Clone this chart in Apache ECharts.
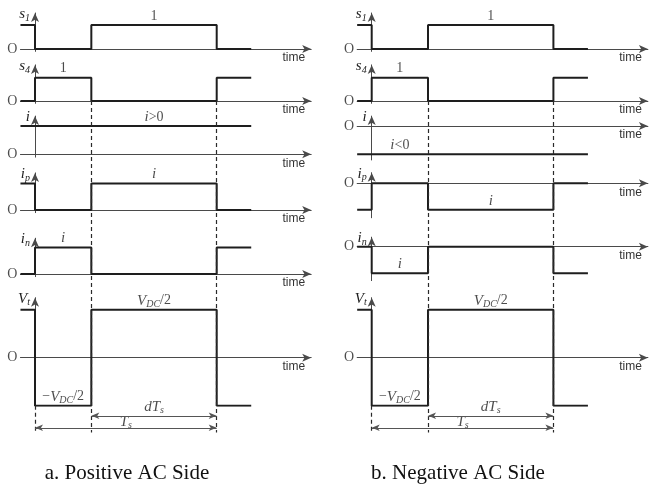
<!DOCTYPE html>
<html><head><meta charset="utf-8">
<script src="https://cdn.jsdelivr.net/npm/echarts@6/dist/echarts.min.js"></script>
<style>html,body{margin:0;padding:0;background:#fff}#c{width:651px;height:497px}</style>
</head><body><div id="c"></div>
<script>
// ---- data (time in units of Ts) ----
const edges = [-0.08, 0, 0.31, 1, 1.19];           // switching instants
// a. positive AC side: level of each segment between edges
const posS1 = [1, 0, 1, 0];
const posS4 = [0, 1, 0, 1];
const posI  = [1, 1, 1, 1];
const posIp = [1, 0, 1, 0];
const posIn = [0, 1, 0, 1];
const posVt = [1, -1, 1, -1];
// b. negative AC side
const negS1 = [1, 0, 1, 0];
const negS4 = [0, 1, 0, 1];
const negI  = [-1, -1, -1, -1];
const negIp = [-1, 0, -1, 0];
const negIn = [0, -1, 0, -1];
const negVt = [1, -1, 1, -1];
const rowNames = ['{it|s}{sub|1}', '{it|s}{sub|4}', '{it|i}', '{it|i}{sub|p}', '{it|i}{sub|n}', '{it|V}{sub|t}'];
const axisName = 'time';
const originLabel = 'O';
// level labels: [segment index, level, text]
const posLabels = [
  [[2, 1, '{n|1}']], [[1, 1, '{n|1}']], [[2, 1, '{it|i}{n|>0}']],
  [[2, 1, '{it|i}']], [[1, 1, '{it|i}']],
  [[2, 1, '{it|V}{sub|DC}{n|/2}'], [1, -1, '{n|−}{it|V}{sub|DC}{n|/2}']]
];
const negLabels = [
  [[2, 1, '{n|1}']], [[1, 1, '{n|1}']], [[1, -1, '{it|i}{n|<0}']],
  [[2, -1, '{it|i}']], [[1, -1, '{it|i}']],
  [[2, 1, '{it|V}{sub|DC}{n|/2}'], [1, -1, '{n|−}{it|V}{sub|DC}{n|/2}']]
];
const dTsText = '{it|dT}{sub|s}';
const TsText = '{it|T}{sub|s}';
const captions = ['a. Positive AC Side', 'b. Negative AC Side'];

// ---- layout ----
const X = {min: -0.08, max: 1.52, unit: 181.7, origins: [35, 371.7]};
const rowLayout = [
  {zero: [49, 49], unit: 24, ranges: [[-0.1, 1.5], [-0.1, 1.5]]},
  {zero: [101, 101], unit: 23.3, ranges: [[-0.1, 1.55], [-0.1, 1.55]]},
  {zero: [154.3, 126], unit: 28.3, ranges: [[-0.1, 1.35], [-1.2, 0.35]]},
  {zero: [210, 183.3], unit: 26.5, ranges: [[-0.1, 1.4], [-1.3, 0.4]]},
  {zero: [274, 246.7], unit: 26.5, ranges: [[-0.1, 1.35], [-1.28, 0.36]]},
  {zero: [357.7, 357.7], unit: 48, ranges: [[-1, 1.25], [-1, 1.25]]}
];
const panels = [
  {rows: [posS1, posS4, posI, posIp, posIn, posVt], labels: posLabels},
  {rows: [negS1, negS4, negI, negIp, negIn, negVt], labels: negLabels}
];

const INK = '#1e1e1e', AX = '#4a4a4a';
const rich = {
  it: {fontFamily: 'Liberation Serif', fontStyle: 'italic', fontSize: 15, color: INK, lineHeight: 18, verticalAlign: 'middle'},
  sub: {fontFamily: 'Liberation Serif', fontStyle: 'italic', fontSize: 10, color: INK, lineHeight: 9, verticalAlign: 'bottom'},
  n: {fontFamily: 'Liberation Serif', fontSize: 14, color: INK, lineHeight: 18, verticalAlign: 'middle'}
};
const mid = s => (edges[s] + edges[s + 1]) / 2;
function stepData(levels) {
  const d = levels.map((v, k) => [edges[k], v]);
  d.push([edges[edges.length - 1], levels[levels.length - 1]]);
  return d;
}

const grid = [], xAxis = [], yAxis = [], series = [];
panels.forEach((P, p) => {
  const x0 = X.origins[p];
  const left = x0 + X.min * X.unit, width = (X.max - X.min) * X.unit;
  P.rows.forEach((levels, r) => {
    const L = rowLayout[r];
    const [mn, mx] = L.ranges[p];
    const zero = L.zero[p];
    const gi = grid.length;
    grid.push({left, width, top: zero - mx * L.unit, height: (mx - mn) * L.unit});
    const axLine = {show: true, onZero: true, symbol: ['none', 'arrow'], symbolSize: [6, 9], lineStyle: {color: AX, width: 1}};
    xAxis.push({type: 'value', gridIndex: gi, min: X.min, max: X.max, axisLine: axLine,
      axisTick: {show: false}, axisLabel: {show: false}, splitLine: {show: false},
      name: axisName, nameLocation: 'end', nameGap: -6,
      nameTextStyle: {fontFamily: 'Liberation Sans', fontSize: 12, color: '#333', align: 'right', verticalAlign: 'top', padding: [3, 0, 0, 0]}});
    yAxis.push({type: 'value', gridIndex: gi, min: mn, max: mx, axisLine: axLine,
      axisTick: {show: false}, axisLabel: {show: false}, splitLine: {show: false},
      name: rowNames[r], nameLocation: 'end', nameGap: -1,
      nameTextStyle: {align: 'right', verticalAlign: 'middle', padding: [0, 5, 0, 0], rich}});
    series.push({type: 'line', xAxisIndex: gi, yAxisIndex: gi, step: 'end', data: stepData(levels),
      showSymbol: false, symbol: 'none', lineStyle: {color: INK, width: 2}, animation: false, silent: true, z: 3});
    series.push({type: 'scatter', xAxisIndex: gi, yAxisIndex: gi, symbolSize: 0, animation: false, silent: true, z: 4,
      data: [{value: [X.min, 0], label: {show: true, position: 'left', distance: 3, formatter: originLabel,
        fontFamily: 'Liberation Serif', fontSize: 14, color: INK}}].concat(
        P.labels[r].map(([s, v, t]) => ({value: [mid(s), v], label: {show: true, position: 'top', distance: 0, formatter: t, rich}})))
    });
  });
  // overlay grid for dashed guides and Ts / dTs dimension arrows, same scale as Vt row
  const V = rowLayout[5];
  const top = (V.zero[p] - rowLayout[1].zero[p]) / V.unit;
  const bot = -1.7;
  const gi = grid.length;
  grid.push({left, width, top: V.zero[p] - top * V.unit, height: (top - bot) * V.unit});
  xAxis.push({type: 'value', gridIndex: gi, min: X.min, max: X.max, show: false});
  yAxis.push({type: 'value', gridIndex: gi, min: bot, max: top, show: false});
  const guideBottom = -1.56, dTsY = -1.21, TsY = -1.46;
  series.push({type: 'line', xAxisIndex: gi, yAxisIndex: gi, data: [[0, -1]], showSymbol: false, symbol: 'none',
    lineStyle: {width: 0}, animation: false, silent: true, z: 1,
    markLine: {silent: true, animation: false, symbol: ['none', 'none'], label: {show: false},
      lineStyle: {color: '#2a2a2a', width: 1.2, type: [4, 3]},
      data: [
        [{coord: [edges[2], top]}, {coord: [edges[2], guideBottom]}],
        [{coord: [edges[3], top]}, {coord: [edges[3], guideBottom]}],
        [{coord: [edges[1], -1]}, {coord: [edges[1], guideBottom]}]
      ]}});
  series.push({type: 'line', xAxisIndex: gi, yAxisIndex: gi, data: [[0, -1]], showSymbol: false, symbol: 'none',
    lineStyle: {width: 0}, animation: false, silent: true, z: 2,
    markLine: {silent: true, animation: false, symbol: ['arrow', 'arrow'], symbolSize: [5, 8], label: {show: false},
      lineStyle: {color: '#555', width: 1, type: 'solid'},
      data: [
        [{coord: [edges[2], dTsY]}, {coord: [edges[3], dTsY]}],
        [{coord: [edges[1], TsY]}, {coord: [edges[3], TsY]}]
      ]}});
  series.push({type: 'scatter', xAxisIndex: gi, yAxisIndex: gi, symbolSize: 0, animation: false, silent: true, z: 4,
    data: [
      {value: [mid(2), dTsY], label: {show: true, position: 'top', distance: 0, formatter: dTsText, rich}},
      {value: [(edges[1] + edges[3]) / 2, TsY], label: {show: true, position: 'top', distance: -3, formatter: TsText, rich}}
    ]});
});

const title = captions.map((c, p) => ({
  text: c, left: [127, 458][p], top: 463, textAlign: 'center', padding: 0,
  textStyle: {fontFamily: 'Liberation Serif', fontWeight: 'normal', fontSize: 21, color: '#111'}
}));

const chart = echarts.init(document.getElementById('c'), null, {renderer: 'canvas'});
chart.setOption({backgroundColor: '#fff', animation: false, title, grid, xAxis, yAxis, series});
</script></body></html>
